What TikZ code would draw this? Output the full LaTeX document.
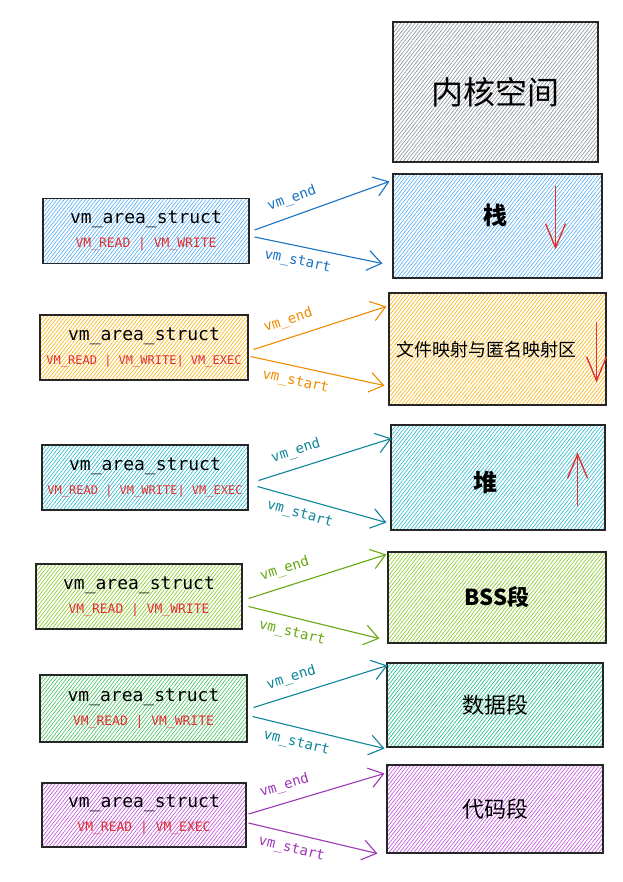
\documentclass[tikz,border=0pt]{standalone}
\usepackage{fontspec}
\newfontfamily\cjkfont{Noto Sans CJK SC}
\newfontfamily\codefont{DejaVu Sans Mono}
\definecolor{vmblue}{RGB}{25,113,194}
\definecolor{hatchblue}{RGB}{77,171,247}
\definecolor{vmorange}{RGB}{240,140,0}
\definecolor{hatchorange}{RGB}{250,176,5}
\definecolor{vmcyan}{RGB}{12,133,153}
\definecolor{hatchcyan}{RGB}{34,184,207}
\definecolor{vmgreen}{RGB}{102,168,15}
\definecolor{hatchgreen}{RGB}{130,201,30}
\definecolor{hatchleaf}{RGB}{64,192,87}
\definecolor{hatchteal}{RGB}{18,184,134}
\definecolor{vmpurple}{RGB}{156,54,181}
\definecolor{hatchpurple}{RGB}{190,75,219}
\definecolor{hatchgray}{RGB}{134,142,150}
\definecolor{flagred}{RGB}{224,49,49}
\usetikzlibrary{arrows.meta,patterns.meta,positioning}
\newcommand{\vmstruct}[2][12]{{\codefont\fontsize{18}{20}\selectfont vm\_area\_struct}\\[9pt]{\codefont\fontsize{#1}{14}\selectfont\color{flagred}#2}}
\tikzset{
  hatchbox/.style={draw=black!85, line width=1.1pt, pattern={Lines[angle=52,distance=2.8pt,line width=0.6pt]}, pattern color=#1},
  vmbox/.style={hatchbox=#1, minimum height=65pt, align=center, inner sep=0pt},
  segbox/.style={hatchbox=#1, inner sep=0pt, font=\cjkfont\fontsize{22}{26}\selectfont},
  seglabel/.style={inner sep=0pt, font=\cjkfont\bfseries\fontsize{24}{28}\selectfont},
  ptr/.style={draw=#1, color=#1, line width=1.1pt, -{Straight Barb[length=14pt,width=20pt]}},
  ptrlabel/.style={font=\codefont\fontsize{14}{16}\selectfont, sloped},
  growarrow/.style={draw=flagred, line width=1.4pt, -{Straight Barb[length=24pt,width=20pt]}}
}

\begin{document}
\begin{tikzpicture}[x=1pt,y=-1pt]
  \useasboundingbox (0,0) rectangle (622,882);
  % Memory layout, top to bottom
  \node[segbox=hatchgray, minimum width=205pt, minimum height=140pt, font=\cjkfont\fontsize{32}{36}\selectfont] (kernel) at (495.5,92) {内核空间};
  \node[segbox=hatchblue, minimum width=209pt, minimum height=104pt] (stack) at (497.5,226) {};
  \node[seglabel] (stacktext) at (495,215) {栈};
  \node[segbox=hatchorange, minimum width=217pt, minimum height=112pt] (mmap) at (497.5,349) {};
  \node[seglabel, font=\cjkfont\fontsize{18}{22}\selectfont] (mmaptext) at (486,350) {文件映射与匿名映射区};
  \node[segbox=hatchcyan, minimum width=214pt, minimum height=105pt] (heap) at (498,477.5) {};
  \node[seglabel] (heaptext) at (485,482) {堆};
  \node[segbox=hatchgreen, minimum width=218pt, minimum height=91pt, font=\cjkfont\bfseries\fontsize{22}{26}\selectfont] (bss) at (497,597.5) {BSS段};
  \node[segbox=hatchteal, minimum width=216pt, minimum height=84pt] (data) at (495,705) {数据段};
  \node[segbox=hatchpurple, minimum width=216pt, minimum height=88pt] (text) at (495,809) {代码段};
  % growth direction
  \draw[growarrow] ([xshift=-47,yshift=-13]stack.north east) -- ([xshift=-47,yshift=-76]stack.north east);
  \draw[growarrow] ([xshift=-10,yshift=-30]mmap.north east) -- ([xshift=-10,yshift=-90]mmap.north east);
  \draw[growarrow] ([xshift=-28,yshift=-82]heap.north east) -- ([xshift=-28,yshift=-28]heap.north east);
  % vm_area_struct list
  \node[vmbox=hatchblue, minimum width=206pt] (vmstack) at (146,231) {\vmstruct[13]{VM\_READ | VM\_WRITE}};
  \node[vmbox=hatchorange, minimum width=208pt] (vmmmap) at (144,347.5) {\vmstruct{VM\_READ | VM\_WRITE| VM\_EXEC}};
  \node[vmbox=hatchcyan, minimum width=206pt] (vmheap) at (145,477.5) {\vmstruct{VM\_READ | VM\_WRITE| VM\_EXEC}};
  \node[vmbox=hatchgreen, minimum width=206pt] (vmbss) at (139,596.5) {\vmstruct[13]{VM\_READ | VM\_WRITE}};
  \node[vmbox=hatchleaf, minimum width=207pt, minimum height=67pt] (vmdata) at (143.5,708.5) {\vmstruct[13]{VM\_READ | VM\_WRITE}};
  \node[vmbox=hatchpurple, minimum width=204pt, minimum height=64pt] (vmtext) at (144,815) {\vmstruct[13]{VM\_READ | VM\_EXEC}};
  % vm_end / vm_start pointers
  \draw[ptr=vmblue] ([xshift=5,yshift=1]vmstack.east) -- node[ptrlabel, above=6pt, pos=0.32] (e1) {vm\_end} ([xshift=-3,yshift=-8]stack.north west);
  \draw[ptr=vmblue] ([xshift=5,yshift=-6]vmstack.east) -- node[ptrlabel, below=5pt, pos=0.36] (s1) {vm\_start} ([xshift=-10,yshift=15]stack.south west);
  \draw[ptr=vmorange] ([xshift=5,yshift=-2]vmmmap.east) -- node[ptrlabel, above=6pt, pos=0.3] (e2) {vm\_end} ([xshift=-2,yshift=-14]mmap.north west);
  \draw[ptr=vmorange] ([xshift=2,yshift=-9]vmmmap.east) -- node[ptrlabel, below=5pt, pos=0.36] (s2) {vm\_start} ([xshift=-4,yshift=20]mmap.south west);
  \draw[ptr=vmcyan] ([xshift=10,yshift=-3]vmheap.east) -- node[ptrlabel, above=6pt, pos=0.32] (e3) {vm\_end} ([xshift=1,yshift=-14]heap.north west);
  \draw[ptr=vmcyan] ([xshift=9,yshift=-9]vmheap.east) -- node[ptrlabel, below=5pt, pos=0.36] (s3) {vm\_start} ([xshift=-4,yshift=8]heap.south west);
  \draw[ptr=vmgreen] ([xshift=6,yshift=-2]vmbss.east) -- node[ptrlabel, above=6pt, pos=0.3] (e4) {vm\_end} ([xshift=-1,yshift=-3]bss.north west);
  \draw[ptr=vmgreen] ([xshift=6,yshift=-10]vmbss.east) -- node[ptrlabel, below=5pt, pos=0.36] (s4) {vm\_start} ([xshift=-8,yshift=5]bss.south west);
  \draw[ptr=vmcyan] ([xshift=6,yshift=1]vmdata.east) -- node[ptrlabel, above=6pt, pos=0.32] (e5) {vm\_end} ([xshift=1,yshift=-3]data.north west);
  \draw[ptr=vmcyan] ([xshift=5,yshift=-8]vmdata.east) -- node[ptrlabel, below=5pt, pos=0.36] (s5) {vm\_start} ([xshift=-2,yshift=-1]data.south west);
  \draw[ptr=vmpurple] ([xshift=2,yshift=1]vmtext.east) -- node[ptrlabel, above=6pt, pos=0.3] (e6) {vm\_end} ([xshift=-2,yshift=-9]text.north west);
  \draw[ptr=vmpurple] ([xshift=2,yshift=-8]vmtext.east) -- node[ptrlabel, below=5pt, pos=0.36] (s6) {vm\_start} ([xshift=-9,yshift=0]text.south west);
\end{tikzpicture}
\end{document}
